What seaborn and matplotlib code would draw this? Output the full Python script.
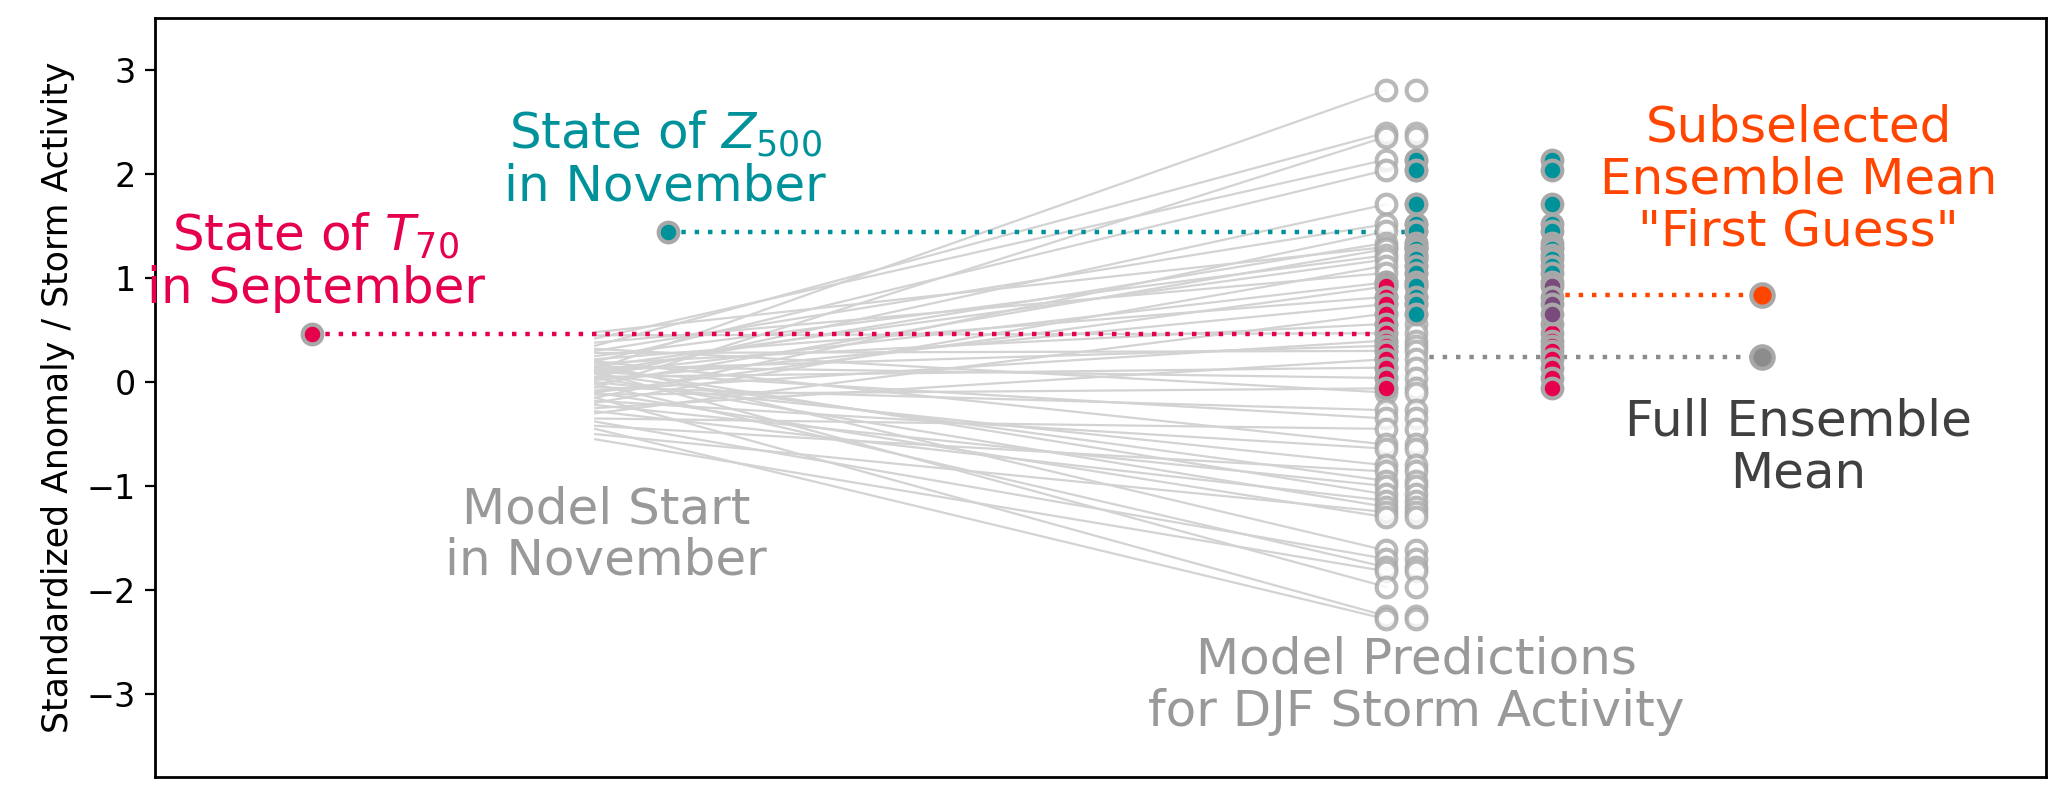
import pandas as pd
import numpy as np
import matplotlib.pyplot as plt
import seaborn as sns

# ensemble members: start value (November) and predicted DJF storm activity
start_vals = [0.12, 0.35, -0.05, 0.42, 0.20, 0.05, 0.30, -0.15, 0.10, 0.48,
              -0.02, 0.25, 0.15, -0.20, 0.38, 0.08, -0.10, 0.22, 0.02, -0.30,
              0.18, 0.45, -0.08, 0.12, 0.28, -0.25, 0.05, 0.15, -0.12, 0.32,
              -0.05, 0.10, -0.35, 0.20, -0.18, 0.00, -0.42, 0.08, -0.22, 0.14,
              -0.28, 0.04, -0.50, -0.10, 0.18, -0.38, -0.02, -0.55, 0.10, -0.15,
              -0.45]
pred_vals = [2.81, 2.40, 2.36, 2.14, 2.04, 1.71, 1.52, 1.45, 1.34, 1.30,
             1.28, 1.22, 1.18, 1.12, 1.05, 0.96, 0.92, 0.82, 0.75, 0.66,
             0.56, 0.47, 0.40, 0.35, 0.30, 0.22, 0.14, 0.04, -0.06, -0.10,
             -0.27, -0.35, -0.45, -0.60, -0.64, -0.80, -0.86, -0.95, -1.00, -1.08,
             -1.14, -1.20, -1.25, -1.30, -1.62, -1.70, -1.78, -1.82, -1.97, -2.25,
             -2.28]

# members picked by each predictor
t70_members = [0.96, 0.92, 0.82, 0.75, 0.66, 0.56, 0.47, 0.40, 0.35, 0.30,
               0.22, 0.14, 0.04, -0.06]
z500_members = [2.14, 2.04, 1.71, 1.52, 1.45, 1.34, 1.30, 1.28, 1.22, 1.18,
                1.12, 1.05, 0.96, 0.92, 0.82, 0.75, 0.66]

t70_state = 0.46
z500_state = 1.44
subselected_mean = 0.84
full_mean = 0.24

# x positions (arbitrary units)
x_t70, x_z500, x_start = -2.15, 0.55, 0.0
x_pred1, x_pred2, x_pred3, x_mean = 6.0, 6.23, 7.26, 8.85

red = '#E6004C'
teal = '#00929A'
orange = '#FF4500'
purple = '#7A4A7C'
edge_gray = '#A8A8A8'

# long table for the member lines
n = len(pred_vals)
lines = pd.DataFrame({
    'member': list(range(n)) * 2,
    'x': [x_start] * n + [x_pred1] * n,
    'y': start_vals + pred_vals,
})

both = [v for v in t70_members if v in z500_members]
t70_only = [v for v in t70_members if v not in both]
z500_only = [v for v in z500_members if v not in both]

fig = plt.figure(figsize=(10.335, 3.985), dpi=200)
ax = fig.add_axes([0.075, 0.025, 0.915, 0.952])

sns.lineplot(data=lines, x='x', y='y', units='member', estimator=None,
             color='#D3D3D3', lw=0.8, ax=ax, zorder=1)

dot = (0, (1, 2))
ax.plot([x_t70, x_pred1], [t70_state, t70_state], color=red, lw=1.6, ls=dot, zorder=2)
ax.plot([x_z500, x_pred2], [z500_state, z500_state], color=teal, lw=1.6, ls=dot, zorder=2)
ax.plot([x_pred2, x_mean], [full_mean, full_mean], color='#8C8C8C', lw=1.6, ls=dot, zorder=2)
ax.plot([x_pred3, x_mean], [subselected_mean, subselected_mean], color=orange, lw=1.6, ls=dot, zorder=2)

ms = 50
elw = 1.5
# open circles for all members in the two prediction columns
for xc in [x_pred1, x_pred2]:
    sns.scatterplot(x=[xc] * n, y=pred_vals, s=ms, facecolor='white',
                    edgecolor=edge_gray, linewidth=elw, alpha=0.8, ax=ax, zorder=3)

sns.scatterplot(x=[x_pred1] * len(t70_members), y=t70_members, s=ms, color=red,
                edgecolor=edge_gray, linewidth=elw, ax=ax, zorder=4)
sns.scatterplot(x=[x_pred2] * len(z500_members), y=z500_members, s=ms, color=teal,
                edgecolor=edge_gray, linewidth=elw, ax=ax, zorder=4)

# selected members column
sns.scatterplot(x=[x_pred3] * len(t70_only), y=t70_only, s=ms, color=red,
                edgecolor=edge_gray, linewidth=elw, ax=ax, zorder=4)
sns.scatterplot(x=[x_pred3] * len(z500_only), y=z500_only, s=ms, color=teal,
                edgecolor=edge_gray, linewidth=elw, ax=ax, zorder=4)
sns.scatterplot(x=[x_pred3] * len(both), y=both, s=ms, color=purple,
                edgecolor=edge_gray, linewidth=elw, ax=ax, zorder=4)

# states and means
sns.scatterplot(x=[x_t70], y=[t70_state], s=ms, color=red, edgecolor=edge_gray, linewidth=elw, ax=ax, zorder=5)
sns.scatterplot(x=[x_z500], y=[z500_state], s=ms, color=teal, edgecolor=edge_gray, linewidth=elw, ax=ax, zorder=5)
sns.scatterplot(x=[x_mean], y=[subselected_mean], s=65, color=orange, edgecolor=edge_gray, linewidth=elw, ax=ax, zorder=5)
sns.scatterplot(x=[x_mean], y=[full_mean], s=65, color='#8C8C8C', edgecolor=edge_gray, linewidth=elw, ax=ax, zorder=5)

fs = 18
ax.text(-2.12, 1.16, 'State of $T_{70}$\nin September', color=red, fontsize=fs,
        ha='center', va='center', linespacing=1.1)
ax.text(0.53, 2.14, 'State of $Z_{500}$\nin November', color=teal, fontsize=fs,
        ha='center', va='center', linespacing=1.1)
ax.text(0.08, -1.47, 'Model Start\nin November', color='#999999', fontsize=fs,
        ha='center', va='center', linespacing=1.1)
ax.text(6.23, -2.92, 'Model Predictions\nfor DJF Storm Activity', color='#999999', fontsize=fs,
        ha='center', va='center', linespacing=1.1)
ax.text(9.13, 1.95, 'Subselected\nEnsemble Mean\n"First Guess"', color=orange, fontsize=fs,
        ha='center', va='center', linespacing=1.1)
ax.text(9.13, -0.63, 'Full Ensemble\nMean', color='#404040', fontsize=fs,
        ha='center', va='center', linespacing=1.1)

ax.set_xlim(-3.34, 11.01)
ax.set_ylim(-3.8, 3.5)
ax.set_xticks([])
ax.set_yticks([-3, -2, -1, 0, 1, 2, 3])
ax.set_xlabel('')
ax.set_ylabel('Standardized Anomaly / Storm Activity', fontsize=12.5)
ax.tick_params(axis='y', labelsize=12)
for sp in ax.spines.values():
    sp.set_color('black')
    sp.set_linewidth(1.0)

plt.savefig('out.png', dpi=200)
